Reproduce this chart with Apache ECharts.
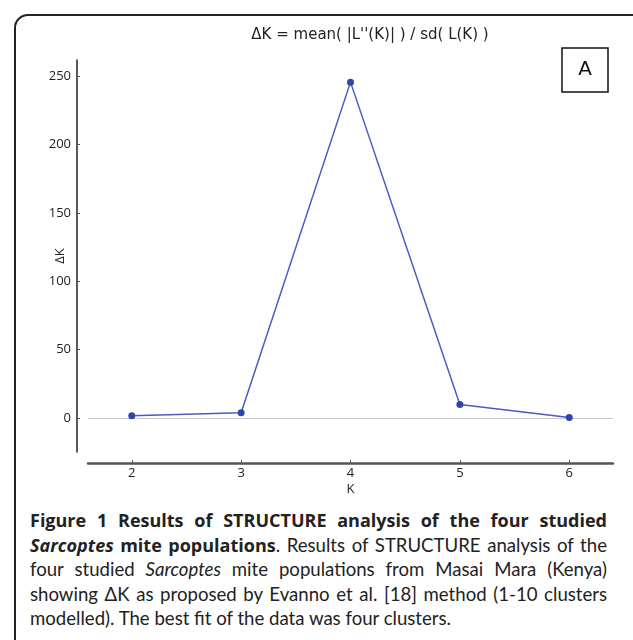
<!DOCTYPE html>
<html><head><meta charset="utf-8">
<script src="https://cdn.jsdelivr.net/npm/echarts@6/dist/echarts.min.js"></script>
<style>
html,body{margin:0;padding:0;background:#fff;width:633px;height:640px;overflow:hidden;}
#frame{position:absolute;left:14px;top:14px;width:640px;height:700px;border:2px solid #222;border-radius:14px;box-sizing:border-box;}
#chart{position:absolute;left:0;top:0;width:633px;height:505px;}
#cap{position:absolute;left:30px;top:508px;width:577px;font-family:"Lato",sans-serif;font-size:18.6px;line-height:24.5px;color:#222;}
#cap div{white-space:nowrap;text-align:justify;text-align-last:justify;}
#cap div.last{text-align-last:left;}
#cap b{font-weight:700;font-family:"Open Sans",sans-serif;font-size:18px;}
</style></head><body>
<div id="frame"></div>
<div id="chart"></div>
<div id="cap">
<div><b>Figure 1 Results of STRUCTURE analysis of the four studied</b></div>
<div><b><i>Sarcoptes</i> mite populations</b>. Results of STRUCTURE analysis of the</div>
<div>four studied <i>Sarcoptes</i> mite populations from Masai Mara (Kenya)</div>
<div>showing ΔK as proposed by Evanno et al. [18] method (1-10 clusters</div>
<div class="last">modelled). The best fit of the data was four clusters.</div>
</div>
<script>
var kValues = [2, 3, 4, 5, 6];
var deltaK = [1.5, 3.8, 245.8, 9.8, 0.2];
var yTicks = [0, 50, 100, 150, 200, 250];
var xTicks = [2, 3, 4, 5, 6];
var titleText = "ΔK = mean( |L''(K)| ) / sd( L(K) )";

var chart = echarts.init(document.getElementById('chart'));
var font = 'Open Sans';
chart.setOption({
  animation: false,
  title: {text: titleText, left: 365, top: 23, textAlign: 'center',
    textStyle: {fontFamily: 'DejaVu Sans', fontSize: 15, fontWeight: 'normal', color: '#222'}},
  grid: {left: 88, right: 20, top: 60, bottom: 53},
  xAxis: {type: 'value', min: 1.6, max: 6.4, offset: 11, name: 'K', nameLocation: 'middle', nameGap: 20,
    nameMoveOverlap: false,
    nameTextStyle: {fontFamily: font, fontSize: 13, color: '#222'},
    axisLine: {onZero: false, lineStyle: {color: '#555', width: 2.5}},
    axisTick: {inside: true, length: 3, customValues: xTicks, lineStyle: {color: '#555'}},
    axisLabel: {customValues: xTicks, fontFamily: font, fontSize: 13, color: '#222', margin: 4},
    splitLine: {show: false}},
  yAxis: {type: 'value', min: -25, max: 262, offset: 11, name: 'ΔK', nameLocation: 'middle', nameGap: 10,
    nameMoveOverlap: false,
    nameTextStyle: {fontFamily: font, fontSize: 13, color: '#222'},
    axisLine: {show: true, onZero: false, lineStyle: {color: '#222', width: 1.5}},
    axisTick: {show: true, inside: true, length: 3, customValues: yTicks, lineStyle: {color: '#555'}},
    axisLabel: {customValues: yTicks, fontFamily: font, fontSize: 13, color: '#222', margin: 6},
    splitLine: {show: false}},
  graphic: [
    {type: 'rect', shape: {x: 562, y: 48, width: 46, height: 44}, style: {fill: '#fff', stroke: '#111', lineWidth: 1.5}, z: 10},
    {type: 'text', x: 585, y: 70, style: {text: 'A', fontFamily: 'DejaVu Sans', fontSize: 20, fill: '#111', align: 'center', verticalAlign: 'middle'}, z: 11}
  ],
  series: [{
    type: 'line', data: kValues.map(function(k, i){ return [k, deltaK[i]]; }),
    symbol: 'circle', symbolSize: 7,
    lineStyle: {color: '#4a5ac0', width: 1.5},
    itemStyle: {color: '#2f45a8'},
    markLine: {silent: true, symbol: 'none', label: {show: false},
      lineStyle: {color: '#c8c8c8', type: 'solid', width: 1}, data: [{yAxis: 0}], z: 1}
  }]
});
</script>
</body></html>
